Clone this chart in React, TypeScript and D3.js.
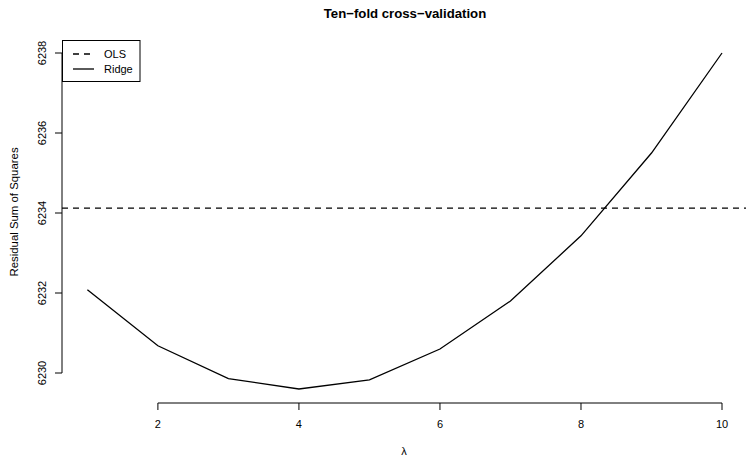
import React, { useRef, useEffect } from "react";
import * as d3 from "d3";

const lambdas = [1, 2, 3, 4, 5, 6, 7, 8, 9, 10];
const ridgeRss = [6232.08, 6230.68, 6229.86, 6229.6, 6229.83, 6230.6, 6231.8, 6233.43, 6235.5, 6238.0];
const olsRss = 6234.12;
const xTicks = [2, 4, 6, 8, 10];
const yTicks = [6230, 6232, 6234, 6236, 6238];

const App = () => {
  const svgRef = useRef<SVGSVGElement>(null);

  useEffect(() => {
    const width = 746;
    const height = 458;
    const font = "'Liberation Sans', Arial, Helvetica, sans-serif";

    const svg = d3.select(svgRef.current).attr("width", width).attr("height", height);
    svg.selectAll("*").remove();

    // plot region like R's 4% range extension
    const xScale = d3.scaleLinear().domain([0.64, 10.36]).range([62, 747.4]);
    const yMin = d3.min(ridgeRss)!;
    const yMax = d3.max(ridgeRss)!;
    const pad = (yMax - yMin) * 0.04;
    const yScale = d3
      .scaleLinear()
      .domain([yMin - pad, yMax + pad])
      .range([373 + (6230 - (yMin - pad)) * 40, 53 - (yMax + pad - 6238) * 40]);

    const g = svg.append("g").attr("font-family", font);

    // x axis
    const xAxis = g.append("g").attr("transform", `translate(0,403)`);
    xAxis
      .append("line")
      .attr("x1", xScale(2))
      .attr("x2", xScale(10))
      .attr("stroke", "#000");
    xTicks.forEach((t) => {
      xAxis
        .append("line")
        .attr("x1", xScale(t))
        .attr("x2", xScale(t))
        .attr("y2", 7)
        .attr("stroke", "#000");
      xAxis
        .append("text")
        .attr("x", xScale(t))
        .attr("y", 25)
        .attr("text-anchor", "middle")
        .attr("font-size", 11)
        .text(t);
    });

    // y axis
    const yAxis = g.append("g").attr("transform", `translate(62,0)`);
    yAxis
      .append("line")
      .attr("y1", yScale(6230))
      .attr("y2", yScale(6238))
      .attr("stroke", "#000");
    yTicks.forEach((t) => {
      yAxis
        .append("line")
        .attr("x2", -7)
        .attr("y1", yScale(t))
        .attr("y2", yScale(t))
        .attr("stroke", "#000");
      yAxis
        .append("text")
        .attr("transform", `translate(-16,${yScale(t)}) rotate(-90)`)
        .attr("text-anchor", "middle")
        .attr("font-size", 11)
        .text(t);
    });

    // OLS line
    g.append("line")
      .attr("x1", xScale(0.64))
      .attr("x2", xScale(10.36))
      .attr("y1", yScale(olsRss))
      .attr("y2", yScale(olsRss))
      .attr("stroke", "#000")
      .attr("stroke-width", 1.3)
      .attr("stroke-dasharray", "6,5");

    // Ridge line
    const line = d3
      .line<number>()
      .x((d, i) => xScale(lambdas[i]))
      .y((d) => yScale(d));
    g.append("path")
      .datum(ridgeRss)
      .attr("d", line)
      .attr("fill", "none")
      .attr("stroke", "#000")
      .attr("stroke-width", 1.3);

    // title and labels
    g.append("text")
      .attr("x", 405)
      .attr("y", 17.5)
      .attr("text-anchor", "middle")
      .attr("font-weight", "bold")
      .attr("font-size", 13.2)
      .text("Ten\u2212fold cross\u2212validation");
    g.append("text")
      .attr("x", 404)
      .attr("y", 455)
      .attr("text-anchor", "middle")
      .attr("font-size", 11)
      .text("\u03bb");
    g.append("text")
      .attr("transform", `translate(18,212) rotate(-90)`)
      .attr("text-anchor", "middle")
      .attr("font-size", 11.4)
      .text("Residual Sum of Squares");

    // legend
    const legend = g.append("g");
    legend
      .append("rect")
      .attr("x", 62.5)
      .attr("y", 40.5)
      .attr("width", 77.5)
      .attr("height", 41)
      .attr("fill", "#fff")
      .attr("stroke", "#000");
    const items = [
      { label: "OLS", dash: "6,5", y: 54 },
      { label: "Ridge", dash: null, y: 69 },
    ];
    items.forEach((it) => {
      legend
        .append("line")
        .attr("x1", 73)
        .attr("x2", 94)
        .attr("y1", it.y)
        .attr("y2", it.y)
        .attr("stroke", "#000")
        .attr("stroke-width", 1.3)
        .attr("stroke-dasharray", it.dash);
      legend
        .append("text")
        .attr("x", 104)
        .attr("y", it.y + 3.5)
        .attr("font-size", 11)
        .text(it.label);
    });
  }, []);

  return (
    <svg
      ref={svgRef}
      style={{ position: "absolute", left: 0, top: 0, background: "#fff" }}
    ></svg>
  );
};

export default App;
